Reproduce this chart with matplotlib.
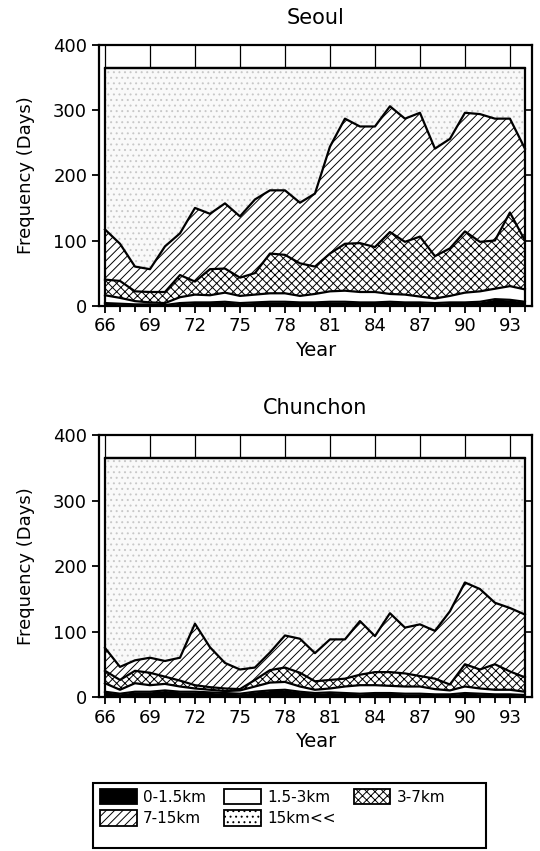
import matplotlib.pyplot as plt
import numpy as np
from matplotlib.patches import Patch, Rectangle

plt.rcParams['font.family'] = ['DejaVu Sans']
plt.rcParams['hatch.linewidth'] = 0.7

years = np.arange(66, 95)

# Seoul, days per year in each visibility class
seoul_0_15 = [4, 3, 2, 2, 1, 4, 5, 5, 6, 4, 5, 6, 6, 5, 5, 6, 6, 5, 5, 6, 5, 5, 4, 5, 5, 6, 10, 9, 6]
seoul_15_3 = [12, 9, 5, 3, 3, 9, 12, 11, 14, 11, 12, 13, 13, 10, 13, 16, 17, 16, 16, 12, 12, 9, 7, 10, 15, 16, 16, 21, 19]
seoul_3_7 = [24, 26, 15, 16, 17, 34, 20, 40, 37, 28, 33, 61, 59, 50, 42, 58, 72, 75, 69, 95, 81, 92, 65, 73, 94, 76, 74, 113, 75]
seoul_7_15 = [77, 57, 38, 35, 70, 64, 113, 85, 100, 94, 113, 97, 99, 93, 112, 164, 192, 179, 185, 193, 189, 190, 165, 168, 182, 196, 187, 144, 141]
seoul_15up = [248, 270, 305, 309, 274, 254, 215, 224, 208, 228, 202, 188, 188, 207, 193, 121, 78, 90, 90, 59, 78, 69, 124, 109, 69, 71, 78, 78, 124]

# Chunchon
chun_0_15 = [8, 5, 8, 8, 10, 8, 8, 7, 6, 5, 8, 10, 11, 8, 6, 7, 6, 5, 6, 6, 5, 5, 4, 4, 6, 5, 4, 4, 3]
chun_15_3 = [13, 6, 13, 10, 10, 8, 5, 4, 3, 5, 8, 12, 12, 8, 5, 6, 10, 13, 12, 11, 11, 11, 8, 6, 10, 8, 7, 7, 5]
chun_3_7 = [19, 15, 19, 19, 11, 9, 5, 4, 4, 2, 10, 19, 22, 21, 13, 13, 12, 16, 20, 21, 20, 16, 16, 9, 34, 29, 39, 28, 22]
chun_7_15 = [35, 20, 16, 23, 24, 35, 94, 61, 39, 30, 19, 27, 49, 52, 43, 62, 60, 82, 55, 90, 70, 79, 73, 112, 125, 123, 94, 97, 96]
chun_15up = [290, 319, 309, 305, 310, 305, 253, 289, 313, 323, 320, 297, 271, 276, 298, 277, 277, 249, 272, 237, 259, 254, 264, 234, 190, 200, 221, 229, 239]

layer_names = ['0-1.5km', '1.5-3km', '3-7km', '7-15km', '15km<<']
faces = ['black', 'white', 'white', 'white', '#f9f9f9']
hatches = [None, None, 'xxxx', '////', '...']
hatch_colors = ['black', 'black', 'black', 'black', '#c8c8c8']


def draw_panel(ax, title, layers):
    # vertical grid lines only show above the 365 day line
    ax.grid(axis='x', which='major', color='black', lw=0.9)
    ax.set_axisbelow(True)
    bottom = np.zeros(len(years))
    for vals, face, hatch, hc in zip(layers, faces, hatches, hatch_colors):
        top = bottom + np.array(vals)
        ax.fill_between(years, bottom, top, facecolor=face, edgecolor=hc,
                        hatch=hatch, lw=0, zorder=1)
        ax.plot(years, top, color='black', lw=1.6, zorder=2)
        bottom = top
    # outline round the whole stack
    ax.fill_between(years, 0, bottom, facecolor='none', edgecolor='black', lw=1.6, zorder=3)

    ax.set_xlim(65.6, 94.45)
    ax.set_ylim(0, 400)
    ax.set_xticks(np.arange(66, 94, 3))
    ax.set_xticks(years, minor=True)
    ax.set_yticks([0, 100, 200, 300, 400])
    ax.tick_params(axis='both', which='major', direction='out', length=5, width=1.3, labelsize=13)
    ax.tick_params(axis='x', which='minor', direction='out', length=4, width=1.3)
    for s in ax.spines.values():
        s.set_linewidth(1.6)

    ax_r = ax.twinx()
    ax_r.set_ylim(0, 400)
    ax_r.set_yticks([100, 200, 300])
    ax_r.tick_params(direction='in', length=4, width=1.2, labelright=False)
    for s in ax_r.spines.values():
        s.set_visible(False)

    ax.set_title(title, fontsize=15, pad=15)
    ax.set_ylabel('Frequency (Days)', fontsize=13)
    ax.yaxis.set_label_coords(-0.148, 0.5)
    ax.set_xlabel('Year', fontsize=14, labelpad=4)


fig = plt.figure(figsize=(5.4, 8.51), dpi=100)
ax1 = fig.add_axes([0.1833, 0.6408, 0.8013, 0.3063])
ax2 = fig.add_axes([0.1833, 0.1810, 0.8013, 0.3075])

draw_panel(ax1, 'Seoul', [seoul_0_15, seoul_15_3, seoul_3_7, seoul_7_15, seoul_15up])
draw_panel(ax2, 'Chunchon', [chun_0_15, chun_15_3, chun_3_7, chun_7_15, chun_15up])

handles = [Patch(facecolor=f, edgecolor='black', hatch=h, lw=1.3)
           for f, h in zip(faces, hatches)]
handles[4] = Patch(facecolor='white', edgecolor='black', hatch='...', lw=1.3)
order = [0, 3, 1, 4, 2]
leg = fig.legend([handles[i] for i in order], [layer_names[i] for i in order],
                 ncol=3, loc='upper left', bbox_to_anchor=(100 / 540, 1 - 789 / 851),
                 fontsize=11, frameon=False,
                 handlelength=2.4, handleheight=1.18, columnspacing=1.2,
                 handletextpad=0.4, borderaxespad=0.0, borderpad=0.0, labelspacing=0.35)
fig.add_artist(Rectangle((0.1722, 0.0035), 0.7278, 0.0764, transform=fig.transFigure,
                         fill=False, lw=1.5, ec='black'))

fig.savefig('out.png', dpi=100)
